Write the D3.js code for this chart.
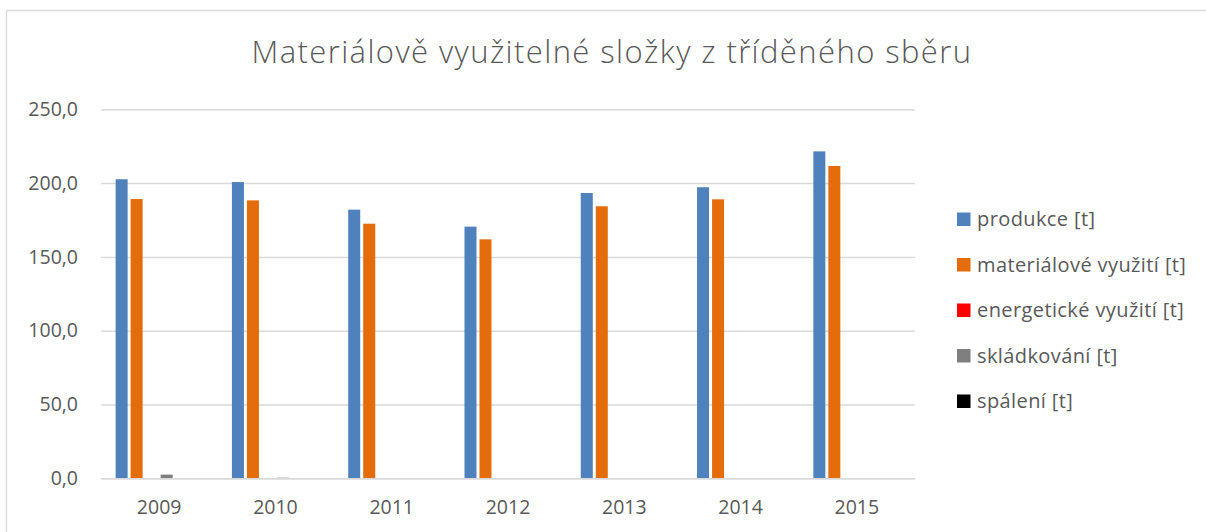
<!DOCTYPE html>
<html>
<head>
<meta charset="utf-8">
<script src="https://cdn.jsdelivr.net/npm/d3@7"></script>
<style>
  html, body { margin: 0; padding: 0; background: #fff; }
  svg { display: block; }
  text { font-family: "Open Sans", "Liberation Sans", sans-serif; fill: #595959; }
</style>
</head>
<body>
<svg id="chart" width="1206" height="532"></svg>
<script>
const title = "Materiálově využitelné složky z tříděného sběru";
const years = ["2009", "2010", "2011", "2012", "2013", "2014", "2015"];
const seriesNames = ["produkce [t]", "materiálové využití [t]", "energetické využití [t]", "skládkování [t]", "spálení [t]"];
const seriesColors = ["#4F81BD", "#E46C0A", "#FF0000", "#7F7F7F", "#000000"];
const produkce = [202.6, 200.7, 182.0, 170.5, 193.3, 197.2, 221.5];
const materialove = [189.2, 188.3, 172.5, 161.9, 184.3, 189.0, 211.6];
const energeticke = [0, 0, 0, 0, 0, 0, 0];
const skladkovani = [2.5, 0.4, 0, 0, 0, 0, 0];
const spaleni = [0, 0, 0, 0, 0, 0, 0];
const yTicks = [0, 50, 100, 150, 200, 250];

const seriesValues = [produkce, materialove, energeticke, skladkovani, spaleni];

const svg = d3.select("#chart");

// chart border
svg.append("rect")
  .attr("x", 6.5).attr("y", 10.5).attr("width", 1230).attr("height", 540)
  .attr("fill", "#fff").attr("stroke", "#D9D9D9").attr("stroke-width", 1.3);

const plot = { left: 101, right: 915, top: 109.3, bottom: 478.3 };

const y = d3.scaleLinear().domain([0, 250]).range([plot.bottom, plot.top]);
const x0 = d3.scaleBand().domain(years).range([plot.left, plot.right]).padding(0);
// six series slots per category (the chart's last slot is empty)
const x1 = d3.scaleBand().domain(d3.range(6)).range([0, x0.bandwidth()])
  .paddingInner(0.2).paddingOuter(0.975);

const fmt = v => d3.format(".1f")(v).replace(".", ",");

// gridlines
const yAxis = d3.axisLeft(y).tickValues(yTicks).tickSize(-(plot.right - plot.left)).tickFormat(fmt).tickPadding(23);
const gy = svg.append("g").attr("transform", `translate(${plot.left},0)`).call(yAxis);
gy.select(".domain").remove();
gy.selectAll(".tick line").attr("stroke", "#D9D9D9").attr("stroke-width", 1.5);
gy.selectAll(".tick text").attr("font-size", 19.5).attr("fill", "#595959")
  .style("font-family", '"Open Sans", sans-serif');

// bars
seriesValues.forEach((vals, si) => {
  svg.append("g").selectAll("rect")
    .data(vals.map((v, i) => ({ year: years[i], v })))
    .join("rect")
    .attr("x", d => x0(d.year) + x1(si))
    .attr("width", x1.bandwidth())
    .attr("y", d => y(d.v))
    .attr("height", d => y(0) - y(d.v))
    .attr("fill", seriesColors[si]);
});

// x axis
const xAxis = d3.axisBottom(x0).tickSize(0).tickPadding(22);
const gx = svg.append("g").attr("transform", `translate(0,${plot.bottom})`).call(xAxis);
gx.select(".domain").attr("stroke", "#D9D9D9").attr("stroke-width", 1.5);
gx.selectAll(".tick text").attr("font-size", 19.5).attr("fill", "#595959")
  .style("font-family", '"Open Sans", sans-serif');

// title
svg.append("text")
  .attr("x", 612).attr("y", 63)
  .attr("text-anchor", "middle")
  .attr("font-size", 31).attr("font-weight", 300)
  .attr("letter-spacing", 1.4)
  .text(title);

// legend
const legend = svg.append("g");
seriesNames.forEach((name, i) => {
  const cy = 219 + i * 45.5;
  legend.append("rect").attr("x", 957).attr("y", cy - 6.5).attr("width", 13.5).attr("height", 13.5)
    .attr("fill", seriesColors[i]);
  legend.append("text").attr("x", 977).attr("y", cy).attr("dy", "0.36em")
    .attr("font-size", 20).attr("letter-spacing", 0.4).text(name);
});
</script>
</body>
</html>
